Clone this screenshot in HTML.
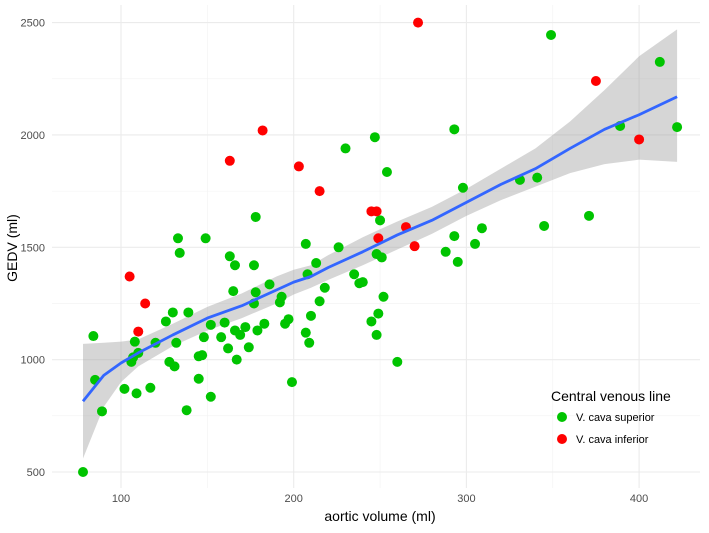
<!DOCTYPE html>
<html><head><meta charset="utf-8"><style>
body{margin:0;background:#fff;font-family:"Liberation Sans",sans-serif}
svg text{font-family:"Liberation Sans",sans-serif}
</style></head><body>
<svg id="c" width="709" height="528" xmlns="http://www.w3.org/2000/svg">
<g id="grid"></g>
<g id="band"></g>
<g id="pts"></g>
<g id="axes"></g>
<text x="380" y="521" text-anchor="middle" font-size="14" fill="#000">aortic volume (ml)</text>
<text transform="translate(17,248) rotate(-90)" text-anchor="middle" font-size="14" fill="#000">GEDV (ml)</text>
<g>
<text x="551" y="401" font-size="14" fill="#000">Central venous line</text>
<g><circle cx="562" cy="417" r="5" fill="#00c400"/><text x="576" y="421" font-size="11" fill="#000">V. cava superior</text></g>
<g><circle cx="562" cy="439" r="5" fill="#f00"/><text x="576" y="443" font-size="11" fill="#000">V. cava inferior</text></g>
</g>
</svg>
<script>
const xTicks=[100,200,300,400];
const yTicks=[500,1000,1500,2000,2500];
const supX=[78,84,85,89,102,106,107,108,109,110,117,120,126,128,131,130,133,134,132,138,139,145,145,147,148,149,152,152,158,160,162,163,165,166,166,167,169,172,174,177,177,178,178,179,183,186,192,193,195,197,199,207,207,208,209,210,213,215,218,226,230,235,238,240,245,247,248,248,249,250,251,252,254,260,288,293,293,295,298,305,309,331,341,345,349,371,389,412,422];
const supY=[500,1105,910,770,870,990,1010,1080,850,1030,875,1075,1170,990,970,1210,1540,1475,1075,775,1210,915,1015,1020,1100,1540,835,1155,1100,1165,1050,1460,1305,1420,1130,1000,1110,1145,1055,1250,1420,1300,1635,1130,1160,1335,1255,1280,1160,1180,900,1515,1120,1380,1075,1195,1430,1260,1320,1500,1940,1380,1340,1345,1170,1990,1470,1110,1205,1620,1455,1280,1835,990,1480,2025,1550,1435,1765,1515,1585,1800,1810,1595,2445,1640,2040,2325,2035];
const infX=[105,110,114,163,182,203,215,245,248,249,265,270,272,375,400];
const infY=[1370,1125,1250,1885,2020,1860,1750,1660,1660,1540,1590,1505,2500,2240,1980];
const fitX=[78,90,100,110,130,150,170,190,200,210,220,240,260,280,300,320,340,360,380,400,422];
const fitY=[815,930,985,1030,1110,1185,1240,1310,1345,1370,1410,1480,1555,1620,1700,1780,1850,1940,2025,2090,2170];
const fitLo=[560,790,900,970,1060,1130,1185,1250,1290,1320,1355,1420,1490,1560,1640,1710,1770,1830,1870,1890,1880];
const fitHi=[1070,1075,1080,1090,1160,1235,1295,1370,1400,1420,1465,1545,1615,1680,1760,1850,1940,2060,2200,2350,2470];
const NS="http://www.w3.org/2000/svg";
const X=v=>121+(v-100)*1.727;
const Y=v=>472-(v-500)*0.2247;
const L=52,R=700,T=5,B=488;
function mk(tag,attrs,parent){const e=document.createElementNS(NS,tag);for(const k in attrs)e.setAttribute(k,attrs[k]);parent.appendChild(e);return e;}
const grid=document.getElementById('grid'),axes=document.getElementById('axes');
// minor gridlines
for(const v of [150,250,350]){const l=mk('line',{x1:X(v),x2:X(v),y1:T,y2:B,stroke:'#f2f2f2','stroke-width':0.6},grid);

}
for(const v of [750,1250,1750,2250]){const l=mk('line',{x1:L,x2:R,y1:Y(v),y2:Y(v),stroke:'#f2f2f2','stroke-width':0.6},grid);

}
xTicks.forEach(v=>{const l=mk('line',{x1:X(v),x2:X(v),y1:T,y2:B,stroke:'#ebebeb','stroke-width':1.1},grid);


const t=mk('text',{x:X(v),y:502,'text-anchor':'middle','font-size':11,fill:'#4d4d4d'},axes);t.textContent=v;

});
yTicks.forEach(v=>{const l=mk('line',{x1:L,x2:R,y1:Y(v),y2:Y(v),stroke:'#ebebeb','stroke-width':1.1},grid);


const t=mk('text',{x:45,y:Y(v)+4,'text-anchor':'end','font-size':11,fill:'#4d4d4d'},axes);t.textContent=v;

});
const band=document.getElementById('band');
let d='M'+fitX.map((x,i)=>X(x)+','+Y(fitHi[i])).join('L');
for(let i=fitX.length-1;i>=0;i--)d+='L'+X(fitX[i])+','+Y(fitLo[i]);
const bp=mk('path',{d:d+'Z',fill:'#999','fill-opacity':0.4},band);


const pts=document.getElementById('pts');
supX.forEach((x,i)=>{const c=mk('circle',{cx:X(x),cy:Y(supY[i]),r:5,fill:'#00c400'},pts);

});
infX.forEach((x,i)=>{const c=mk('circle',{cx:X(x),cy:Y(infY[i]),r:5,fill:'#f00'},pts);

});
const ln=mk('path',{d:'M'+fitX.map((x,i)=>X(x)+','+Y(fitY[i])).join('L'),fill:'none',stroke:'#3366ff','stroke-width':2.8,'stroke-linejoin':'round'},band.parentNode);


</script>
</body></html>
